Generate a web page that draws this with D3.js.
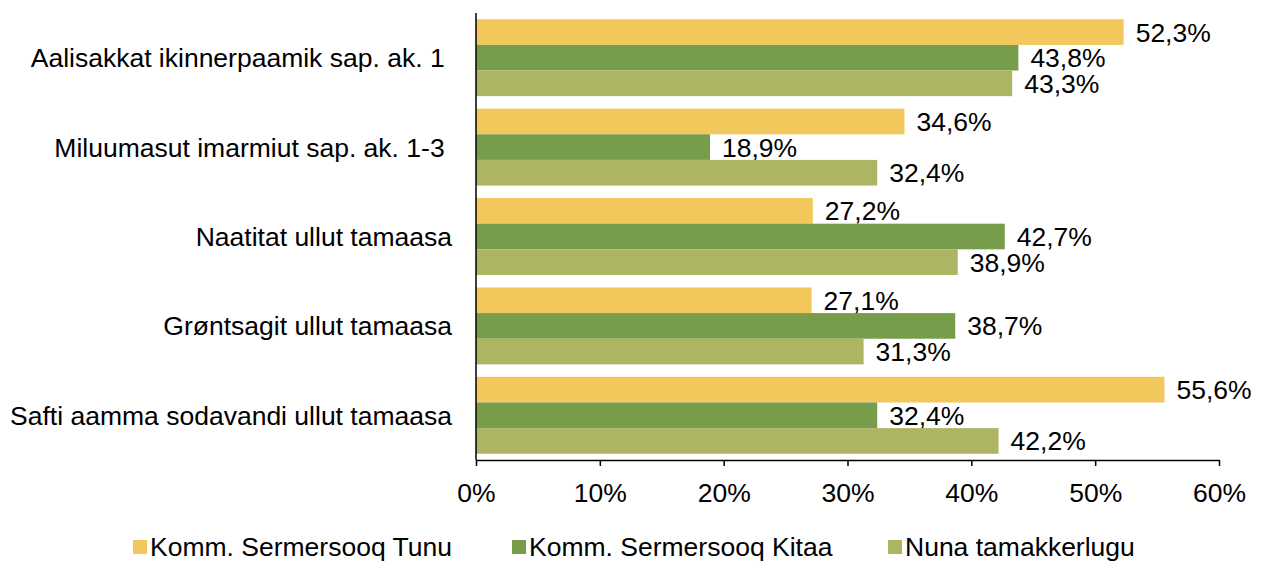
<!DOCTYPE html>
<html>
<head>
<meta charset="utf-8">
<script src="https://cdn.jsdelivr.net/npm/d3@7"></script>
<style>
   body { margin: 0; background: #fff; }
   svg text { font-family: "Liberation Sans", Arial, sans-serif; fill: #000; white-space: pre; }
</style>
</head>
<body>
<svg id="chart" width="1265" height="561"></svg>
<script>
// categories top to bottom (trailing spaces as in the original labels)
const categories = [
   'Aalisakkat ikinnerpaamik sap. ak. 1 ',
   'Miluumasut imarmiut sap. ak. 1-3 ',
   'Naatitat ullut tamaasa',
   'Grøntsagit ullut tamaasa',
   'Safti aamma sodavandi ullut tamaasa'
];
const seriesNames = [ 'Komm. Sermersooq Tunu', 'Komm. Sermersooq Kitaa', 'Nuna tamakkerlugu' ];
const tunu = [ 52.3, 34.6, 27.2, 27.1, 55.6 ];
const kitaa = [ 43.8, 18.9, 42.7, 38.7, 32.4 ];
const nuna = [ 43.3, 32.4, 38.9, 31.3, 42.2 ];
const xTicks = [ 0, 10, 20, 30, 40, 50, 60 ];
const colors = [ '#F2C75C', '#779C4A', '#ADB563' ];

const series = [ tunu, kitaa, nuna ];
const fmt = v => v.toFixed( 1 ).replace( '.', ',' ) + '%';
const fontSize = '26.5px';

const svg = d3.select( '#chart' );
const margin = { left: 476, right: 46, top: 13, bottom: 101 };
const width = 1265 - margin.left - margin.right;
const height = 561 - margin.top - margin.bottom;

const g = svg.append( 'g' ).attr( 'transform', `translate(${margin.left},${margin.top})` );

const x = d3.scaleLinear().domain( [ 0, 60 ] ).range( [ 0, width ] );
const y = d3.scaleBand().domain( categories ).range( [ 0, height ] ).paddingInner( 0.14 ).paddingOuter( 0.07 );
const ySub = d3.scaleBand().domain( d3.range( series.length ) ).range( [ 0, y.bandwidth() ] );

const groups = g.selectAll( 'g.cat' )
   .data( categories )
   .join( 'g' )
   .attr( 'class', 'cat' )
   .attr( 'transform', d => `translate(0,${y( d )})` );

series.forEach( ( values, si ) => {
   groups.append( 'rect' )
      .attr( 'x', 0 )
      .attr( 'y', ySub( si ) )
      .attr( 'width', ( d, i ) => x( values[ i ] ) )
      .attr( 'height', ySub.bandwidth() )
      .attr( 'fill', colors[ si ] );

   groups.append( 'text' )
      .attr( 'x', ( d, i ) => x( values[ i ] ) + 12 )
      .attr( 'y', ySub( si ) + ySub.bandwidth() / 2 )
      .attr( 'dy', '0.36em' )
      .style( 'font-size', fontSize )
      .text( ( d, i ) => fmt( values[ i ] ) );
} );

// category labels
g.selectAll( 'text.cat-label' )
   .data( categories )
   .join( 'text' )
   .attr( 'class', 'cat-label' )
   .attr( 'x', -24 )
   .attr( 'y', d => y( d ) + y.bandwidth() / 2 )
   .attr( 'dy', '0.36em' )
   .attr( 'text-anchor', 'end' )
   .style( 'font-size', fontSize )
   .text( d => d );

// x axis
const xAxis = g.append( 'g' )
   .attr( 'transform', `translate(0,${height})` )
   .call( d3.axisBottom( x ).tickValues( xTicks ).tickSize( 6 ).tickSizeOuter( 0 ).tickFormat( d => d + '%' ) );
xAxis.select( '.domain' ).attr( 'stroke', '#000' ).attr( 'stroke-width', 1.5 );
xAxis.selectAll( '.tick line' ).attr( 'stroke', '#000' ).attr( 'stroke-width', 1.5 );
xAxis.selectAll( '.tick text' )
   .attr( 'y', 32 )
   .attr( 'dy', '0.36em' )
   .style( 'font-size', fontSize )
   .style( 'font-family', '"Liberation Sans", Arial, sans-serif' )
   .attr( 'fill', '#000' );

// y axis line
g.append( 'line' )
   .attr( 'x1', 0 ).attr( 'x2', 0 )
   .attr( 'y1', 0 ).attr( 'y2', height )
   .attr( 'stroke', '#000' )
   .attr( 'stroke-width', 1.5 );

// legend
const legendX = [ 133, 512, 888 ];
const legend = svg.append( 'g' ).attr( 'transform', 'translate(0,546)' );
seriesNames.forEach( ( name, i ) => {
   legend.append( 'rect' )
      .attr( 'x', legendX[ i ] )
      .attr( 'y', -6 )
      .attr( 'width', 14 )
      .attr( 'height', 14 )
      .attr( 'fill', colors[ i ] );
   legend.append( 'text' )
      .attr( 'x', legendX[ i ] + 17 )
      .attr( 'y', 0 )
      .attr( 'dy', '0.36em' )
      .style( 'font-size', fontSize )
      .text( name );
} );
</script>
</body>
</html>
